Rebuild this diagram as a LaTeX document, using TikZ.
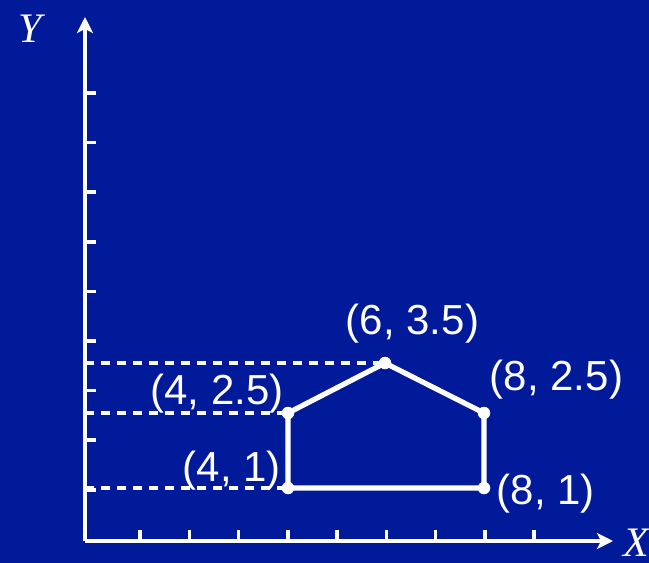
\documentclass[tikz,border=0pt]{standalone}
\usepackage{fontspec}
\setmainfont{Liberation Sans}
\newfontfamily\serifit{Liberation Serif}
\usetikzlibrary{arrows.meta}
\definecolor{bg}{RGB}{0,26,153}
\begin{document}
\begin{tikzpicture}[x=1pt,y=-1pt,
  axis/.style={white, line width=3.5pt, -{Stealth[length=16pt,width=16pt,inset=4pt]}},
  tickmark/.style={white, line width=3.5pt},
  guide/.style={white, line width=3.4pt, dash pattern=on 9pt off 7pt},
  house/.style={white, line width=5.2pt, line join=miter},
  dot/.style={circle, fill=white, inner sep=0pt, minimum size=12.5pt},
  lbl/.style={white, font=\fontsize{42}{42}\selectfont, inner sep=0pt, anchor=base},
  axlbl/.style={white, font=\fontsize{42}{42}\selectfont\serifit\itshape, inner sep=0pt, anchor=base west}]
\useasboundingbox (0,0) rectangle (649,563);
\fill[bg] (0,0) rectangle (649,563);
% axes
\coordinate (O) at (85,541);
\coordinate (ytip) at (85,17);
\coordinate (xtip) at (613,541);
\draw[axis] (O) -- (ytip);
\draw[axis] (O) -- (xtip);
\foreach \k in {0,...,8} \draw[tickmark] (85,{93+49.6*\k}) -- (96,{93+49.6*\k});
\foreach \k in {0,...,8} \draw[tickmark] ({140+49.25*\k},541) -- ({140+49.25*\k},530);
\node[axlbl] (ylab) at (18,42) {Y};
\node[axlbl] (xlab) at (623,556) {X};
% points
\node[dot] (p1) at (288,488) {};
\node[dot] (p2) at (288,413) {};
\node[dot] (p3) at (385,363) {};
\node[dot] (p4) at (484,413) {};
\node[dot] (p5) at (484,488) {};
\draw[house] (p1.center) -- (p2.center) -- (p3.center) -- (p4.center) -- (p5.center) -- cycle;
% guides
\draw[guide] (O |- p1) -- (p1.center);
\draw[guide] (O |- p2) -- (p2.center);
\draw[guide] (O |- p3) -- (p3.center);
% labels
\node[lbl] (l3) at (412.5,334) {(6, 3.5)};
\node[lbl] (l4) at (556.5,390) {(8, 2.5)};
\node[lbl] (l5) at (546,504) {(8, 1)};
\node[lbl] (l2) at (217,404) {(4, 2.5)};
\node[lbl] (l1) at (232,481) {(4, 1)};
\end{tikzpicture}
\end{document}
